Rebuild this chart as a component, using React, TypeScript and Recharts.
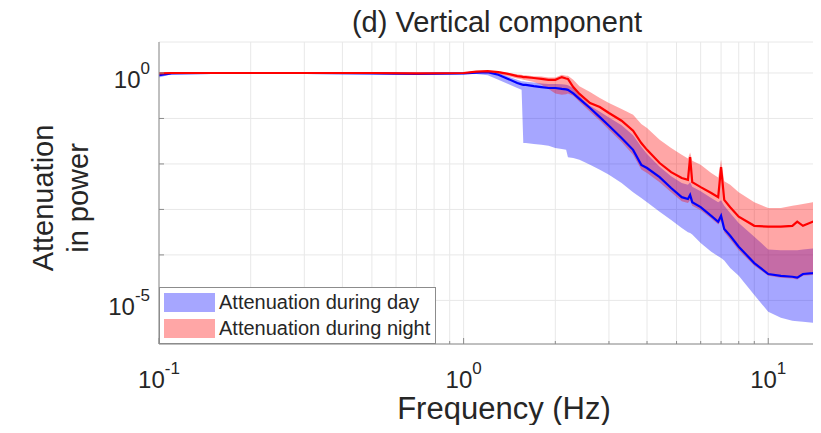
import { ComposedChart, Area, Line, XAxis, YAxis, CartesianGrid, Legend } from "recharts";

// frequency samples (Hz)
const freqHz = [
  0.1, 0.11, 0.15, 0.2, 0.3, 0.5, 0.7, 1.0, 1.1, 1.2, 1.3, 1.4, 1.5, 1.55, 1.57, 1.6, 1.7, 1.8,
  1.9, 2.0, 2.1, 2.17, 2.2, 2.29, 2.4, 2.6, 2.8, 3.0, 3.3, 3.6, 3.83, 4.0, 4.4, 4.8, 5.2, 5.45,
  5.54, 5.63, 6.0, 6.5, 6.85, 7.0, 7.17, 7.5, 8.0, 9.0, 10, 11, 12, 12.45, 13, 14, 14.9,
];

// all attenuation values below are log10 of the power ratio
const dayMedian = [
  -0.05, -0.01, 0.0, 0.0, 0.0, -0.01, -0.02, -0.01, 0.01, 0.02, -0.04, -0.13, -0.22, -0.25, -0.26,
  -0.26, -0.29, -0.31, -0.33, -0.33, -0.35, -0.36, -0.37, -0.45, -0.57, -0.77, -0.97, -1.16, -1.43,
  -1.69, -2.02, -2.09, -2.29, -2.53, -2.73, -2.77, -2.68, -2.84, -2.95, -3.14, -3.27, -3.14, -3.43,
  -3.58, -3.82, -4.18, -4.42, -4.46, -4.48, -4.5, -4.42, -4.4, -4.37,
];
const nightMedian = [
  -0.01, 0.0, 0.0, 0.0, 0.0, 0.0, -0.01, 0.0, 0.03, 0.04, 0.02, -0.02, -0.07, -0.08, -0.09, -0.09,
  -0.11, -0.13, -0.15, -0.15, -0.09, -0.12, -0.13, -0.31, -0.46, -0.66, -0.75, -0.88, -1.05, -1.27,
  -1.54, -1.69, -1.98, -2.18, -2.31, -2.35, -1.85, -2.4, -2.51, -2.64, -2.73, -2.07, -2.79, -2.95,
  -3.16, -3.36, -3.38, -3.38, -3.36, -3.27, -3.36, -3.27, -3.19,
];
const dayLow = [
  -0.1, -0.03, -0.02, -0.02, -0.02, -0.03, -0.04, -0.03, -0.02, -0.05, -0.15, -0.24, -0.33, -0.37,
  -1.54, -1.54, -1.56, -1.58, -1.6, -1.65, -1.67, -1.69, -1.85, -1.87, -1.91, -2.02, -2.13, -2.24,
  -2.42, -2.62, -2.75, -2.84, -3.05, -3.23, -3.41, -3.5, -3.52, -3.55, -3.74, -3.93, -4.03, -4.07,
  -4.12, -4.29, -4.46, -4.88, -5.25, -5.38, -5.45, -5.46, -5.47, -5.49, -5.49,
];
const dayHigh = [
  -0.01, 0.01, 0.01, 0.01, 0.01, 0.0, 0.0, 0.01, 0.03, 0.04, 0.0, -0.08, -0.15, -0.18, -0.18,
  -0.19, -0.21, -0.23, -0.24, -0.24, -0.25, -0.26, -0.27, -0.33, -0.5, -0.72, -0.85, -0.98, -1.15,
  -1.37, -1.62, -1.78, -2.06, -2.27, -2.42, -2.46, -2.4, -2.5, -2.6, -2.75, -2.84, -2.8, -2.92,
  -3.08, -3.3, -3.6, -3.88, -3.9, -3.9, -3.9, -3.88, -3.86, -3.84,
];
const nightLow = [
  -0.03, -0.02, -0.01, -0.01, -0.01, -0.02, -0.03, -0.02, 0.0, 0.01, -0.02, -0.07, -0.12, -0.14,
  -0.15, -0.16, -0.2, -0.26, -0.35, -0.45, -0.48, -0.47, -0.45, -0.5, -0.63, -0.85, -1.05, -1.25,
  -1.52, -1.8, -2.12, -2.2, -2.4, -2.62, -2.82, -2.86, -2.8, -2.92, -3.02, -3.2, -3.33, -3.25, -3.5,
  -3.66, -3.9, -4.24, -4.46, -4.5, -4.52, -4.54, -4.46, -4.44, -4.42,
];
const nightHigh = [
  0.0, 0.01, 0.01, 0.01, 0.01, 0.01, 0.0, 0.01, 0.04, 0.05, 0.04, 0.0, -0.03, -0.04, -0.05, -0.05,
  -0.07, -0.08, -0.1, -0.1, -0.04, -0.06, -0.06, -0.15, -0.29, -0.42, -0.55, -0.66, -0.79, -0.92,
  -1.12, -1.21, -1.47, -1.65, -1.8, -1.88, -1.75, -1.93, -2.02, -2.2, -2.3, -1.91, -2.38, -2.46,
  -2.62, -2.84, -2.97, -2.97, -2.92, -2.9, -2.88, -2.84, -2.79,
];

const xTicks = [
  0.1, 0.2, 0.3, 0.4, 0.5, 0.6, 0.7, 0.8, 0.9, 1, 2, 3, 4, 5, 6, 7, 8, 9, 10,
];
const yTicks = [1e-5, 1e-4, 1e-3, 1e-2, 1e-1, 1];
const yLabelled = [0, -5];

const legendItems = [
  { label: "Attenuation during day", color: "#a6a6ff" },
  { label: "Attenuation during night", color: "#ffa6a6" },
];

const FONT = "'Liberation Sans', Arial, Helvetica, sans-serif";
const INK = "#262626";
const AXIS = "#8c8c8c";
const GRID = "#e8e8e8";

const p10 = (e: number) => Math.pow(10, e);

const data = freqHz.map((f, i) => ({
  f,
  day: p10(dayMedian[i]),
  night: p10(nightMedian[i]),
  dayBand: [p10(dayLow[i]), p10(dayHigh[i])],
  nightBand: [p10(nightLow[i]), p10(nightHigh[i])],
}));

const decade = (v: number) => {
  const e = Math.log10(v);
  const r = Math.round(e);
  return Math.abs(e - r) < 1e-6 ? r : null;
};

function BottomTick({ x, y, payload }: any) {
  const exp = decade(payload.value);
  return (
    <g>
      <line x1={x} x2={x} y1={y} y2={y - (exp !== null ? 6 : 3)} stroke={AXIS} />
      {exp !== null && (
        <text x={x} y={y + 44} textAnchor="middle" fontSize={24} fill={INK} fontFamily={FONT}>
          10
          <tspan dy={-14} fontSize={17}>
            {exp}
          </tspan>
        </text>
      )}
    </g>
  );
}

function TopTick({ x, y, payload }: any) {
  const exp = decade(payload.value);
  return <line x1={x} x2={x} y1={y} y2={y + (exp !== null ? 6 : 3)} stroke={AXIS} />;
}

function LeftTick({ x, y, payload }: any) {
  const exp = decade(payload.value);
  const show = exp !== null && yLabelled.includes(exp);
  return (
    <g>
      <line x1={x} x2={x + 5} y1={y} y2={y} stroke={AXIS} />
      {show && (
        <text x={x - 9} y={y + 15} textAnchor="end" fontSize={24} fill={INK} fontFamily={FONT}>
          10
          <tspan dy={-14} fontSize={17}>
            {exp}
          </tspan>
        </text>
      )}
    </g>
  );
}

const xTitle = () => (
  <text x={496} y={411} textAnchor="middle" fontSize={31} fill={INK} fontFamily={FONT}>
    Frequency (Hz)
  </text>
);

const yTitle = () => (
  <g fontSize={29} fill={INK} fontFamily={FONT} textAnchor="middle">
    <text x={45} y={190} transform="rotate(-90 45 190)">
      Attenuation
    </text>
    <text x={80} y={190} transform="rotate(-90 80 190)">
      in power
    </text>
  </g>
);

function LegendBox() {
  return (
    <div
      style={{
        boxSizing: "border-box",
        width: 277,
        height: 57,
        border: `1px solid ${AXIS}`,
        background: "#fff",
        padding: "5px 0 0 4px",
        fontFamily: FONT,
        fontSize: 20,
        lineHeight: "19px",
        color: INK,
      }}
    >
      {legendItems.map((item) => (
        <div key={item.label} style={{ display: "flex", alignItems: "flex-start", height: 26 }}>
          <span
            style={{ width: 51, height: 19, background: item.color, marginRight: 4, flex: "none" }}
          />
          <span style={{ whiteSpace: "nowrap" }}>{item.label}</span>
        </div>
      ))}
    </div>
  );
}

export default function App() {
  return (
    <div style={{ position: "relative", width: 813, height: 425, marginBottom: -8 }}>
      <div
        style={{
          position: "absolute",
          left: 489,
          top: -3,
          transform: "translateX(-50%)",
          whiteSpace: "nowrap",
          fontFamily: FONT,
          fontSize: 29,
          lineHeight: "34px",
          color: INK,
        }}
      >
        (d) Vertical component
      </div>
      <ComposedChart
        width={813}
        height={425}
        data={data}
        margin={{ top: 34, right: 0, bottom: 0, left: 0 }}
      >
        <CartesianGrid stroke={GRID} strokeWidth={1} />
        <XAxis
          dataKey="f"
          type="number"
          scale="log"
          domain={[0.1, 14.9]}
          allowDataOverflow
          ticks={xTicks}
          interval={0}
          height={89}
          stroke={AXIS}
          tickLine={false}
          tickSize={0}
          tickMargin={0}
          tick={<BottomTick />}
          label={xTitle}
        />
        <XAxis
          xAxisId="top"
          orientation="top"
          dataKey="f"
          type="number"
          scale="log"
          domain={[0.1, 14.9]}
          allowDataOverflow
          ticks={xTicks}
          interval={0}
          height={0}
          stroke={AXIS}
          tickLine={false}
          tickSize={0}
          tickMargin={0}
          tick={<TopTick />}
        />
        <YAxis
          type="number"
          scale="log"
          domain={[1.1e-6, 4.8]}
          allowDataOverflow
          ticks={yTicks}
          interval={0}
          width={151}
          stroke={AXIS}
          tickLine={false}
          tickSize={0}
          tickMargin={0}
          tick={<LeftTick />}
          label={yTitle}
        />
        <Area
          dataKey="dayBand"
          type="linear"
          stroke="none"
          fill="#0000ff"
          fillOpacity={0.35}
          isAnimationActive={false}
        />
        <Area
          dataKey="nightBand"
          type="linear"
          stroke="none"
          fill="#ff0000"
          fillOpacity={0.35}
          isAnimationActive={false}
        />
        <Line
          dataKey="day"
          type="linear"
          stroke="#0000ff"
          strokeWidth={2.2}
          dot={false}
          isAnimationActive={false}
        />
        <Line
          dataKey="night"
          type="linear"
          stroke="#ff0000"
          strokeWidth={2.2}
          dot={false}
          isAnimationActive={false}
        />
        <Legend
          layout="horizontal"
          verticalAlign="middle"
          wrapperStyle={{ left: 151, top: 279, width: 277, height: 57 }}
          content={() => <LegendBox />}
        />
      </ComposedChart>
    </div>
  );
}
